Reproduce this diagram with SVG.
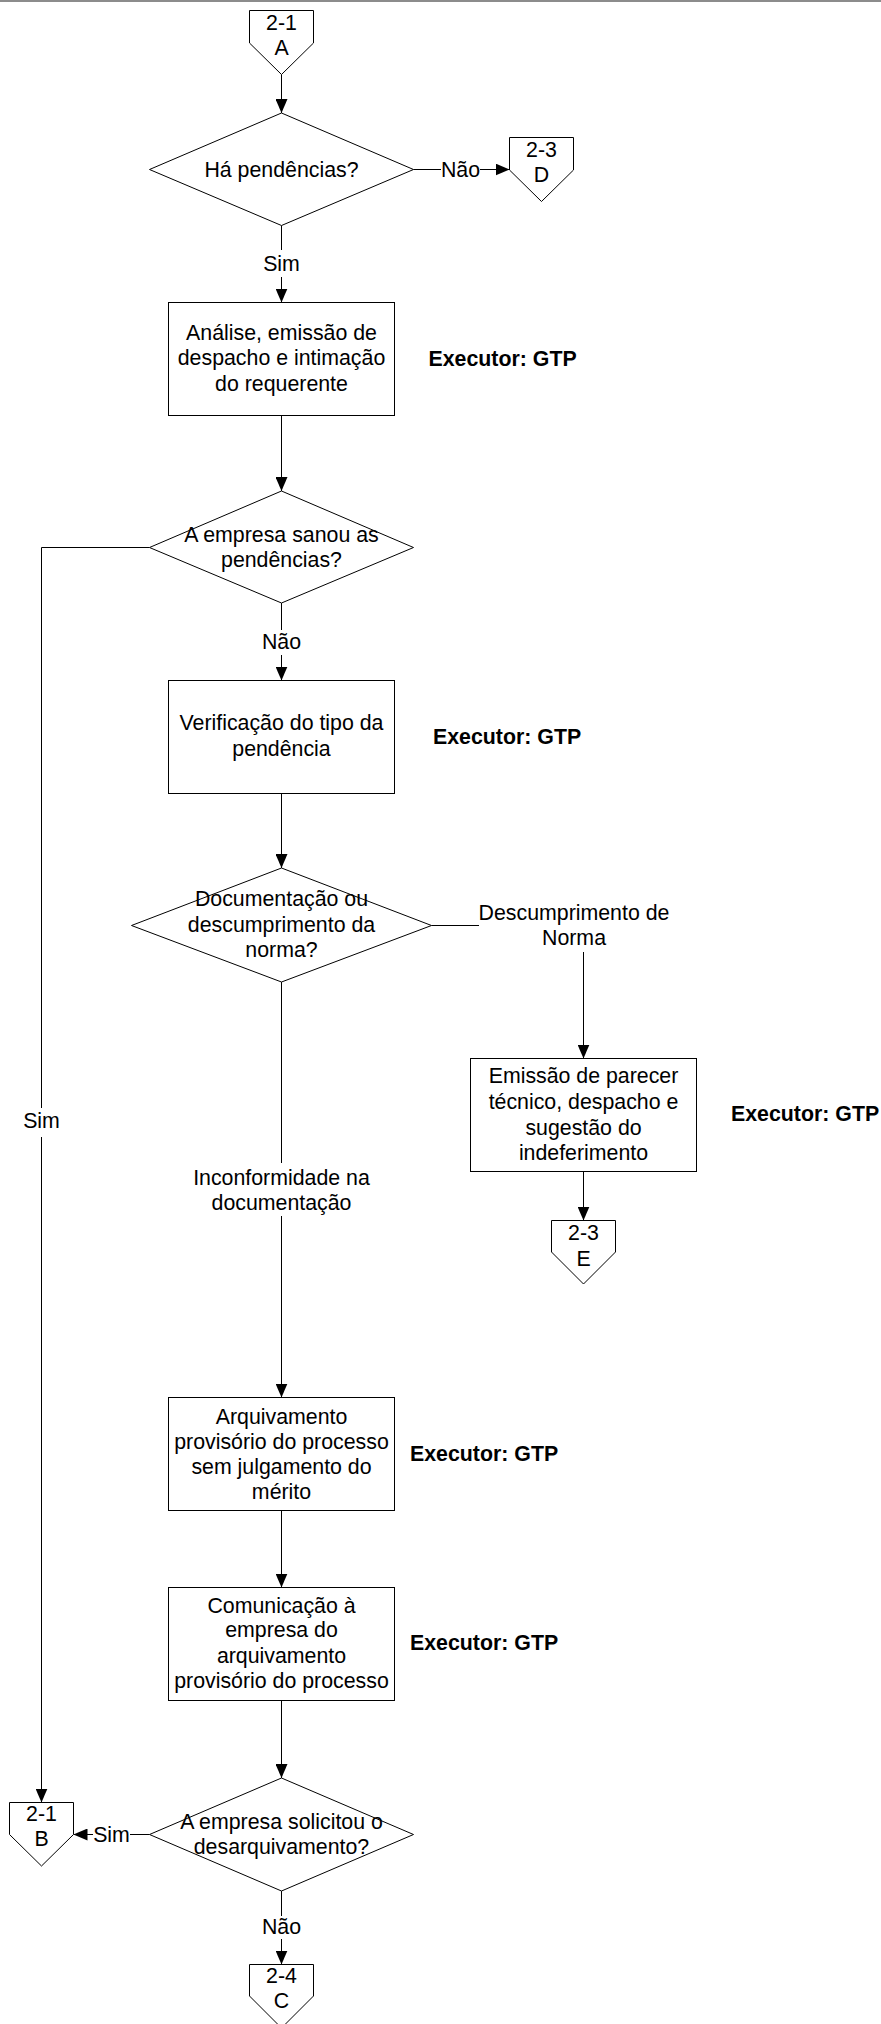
<svg xmlns="http://www.w3.org/2000/svg" width="881" height="2024" viewBox="0 0 881 2024">
<style>
.s{fill:#fff;stroke:#000;stroke-width:1}
.c{fill:none;stroke:#000;stroke-width:1}
text{font-family:"Liberation Sans",Arial,sans-serif;font-size:21.33px;fill:#000}
.m{text-anchor:middle}
.b{font-weight:bold}
</style>
<defs>
<marker id="ah" markerUnits="userSpaceOnUse" markerWidth="14" markerHeight="12" refX="14" refY="6" orient="auto">
<path d="M0,0 L14,6 L0,12 Z" fill="#000"/>
</marker>
</defs>
<rect x="0" y="0" width="881" height="2" fill="#8c8c8c"/>

<g id="connectors">
<path class="c" d="M281.5,74.5 V113" marker-end="url(#ah)"/>
<path class="c" d="M413.5,169.5 H441"/>
<path class="c" d="M480,169.5 H509.5" marker-end="url(#ah)"/>
<path class="c" d="M281.5,225.5 V250"/>
<path class="c" d="M281.5,277 V302.5" marker-end="url(#ah)"/>
<path class="c" d="M281.5,415.5 V491" marker-end="url(#ah)"/>
<path class="c" d="M281.5,603 V630"/>
<path class="c" d="M281.5,655 V680.5" marker-end="url(#ah)"/>
<path class="c" d="M149.5,547.5 H41.5 V1108"/>
<path class="c" d="M41.5,1137 V1802.5" marker-end="url(#ah)"/>
<path class="c" d="M281.5,793.5 V868" marker-end="url(#ah)"/>
<path class="c" d="M431.5,925.5 H479"/>
<path class="c" d="M583.5,952 V1058.5" marker-end="url(#ah)"/>
<path class="c" d="M583.5,1171.5 V1220.5" marker-end="url(#ah)"/>
<path class="c" d="M281.5,982 V1163"/>
<path class="c" d="M281.5,1216 V1397.5" marker-end="url(#ah)"/>
<path class="c" d="M281.5,1510.5 V1587.5" marker-end="url(#ah)"/>
<path class="c" d="M281.5,1700.5 V1778" marker-end="url(#ah)"/>
<path class="c" d="M149.5,1834.5 H130"/>
<path class="c" d="M93,1834.5 H73.5" marker-end="url(#ah)"/>
<path class="c" d="M281.5,1891 V1916"/>
<path class="c" d="M281.5,1939 V1964.5" marker-end="url(#ah)"/>
<text class="m" x="460.5" y="176.5">Não</text>
<text class="m" x="281.5" y="271">Sim</text>
<text class="m" x="281.5" y="648.5">Não</text>
<text class="m" x="41.5" y="1127.5">Sim</text>
<text class="m" x="574" y="919.5">Descumprimento de</text>
<text class="m" x="574" y="945">Norma</text>
<text class="m" x="281.5" y="1184.5">Inconformidade na</text>
<text class="m" x="281.5" y="1209.5">documentação</text>
<text class="m" x="111.5" y="1842">Sim</text>
<text class="m" x="281.5" y="1934">Não</text>
</g>

<g id="conA">
<polygon class="s" points="249.5,10.5 313.5,10.5 313.5,43 281.5,74.5 249.5,43"/>
<text class="m" x="281.5" y="30">2-1</text>
<text class="m" x="281.5" y="55">A</text>
</g>
<g id="conD">
<polygon class="s" points="509.5,137.5 573.5,137.5 573.5,170 541.5,201.5 509.5,170"/>
<text class="m" x="541.5" y="156.5">2-3</text>
<text class="m" x="541.5" y="182">D</text>
</g>
<g id="dec1">
<polygon class="s" points="149.5,169.5 281.5,113 413.5,169.5 281.5,225.5"/>
<text class="m" x="281.5" y="176.5">Há pendências?</text>
</g>
<g id="proc1">
<rect class="s" x="168.5" y="302.5" width="226" height="113"/>
<text class="m" x="281.5" y="339.5">Análise, emissão de</text>
<text class="m" x="281.5" y="365">despacho e intimação</text>
<text class="m" x="281.5" y="391">do requerente</text>
</g>
<text id="exec1" class="b" x="428.5" y="366">Executor: GTP</text>
<g id="dec2">
<polygon class="s" points="149.5,547.5 281.5,491 413.5,547.5 281.5,603"/>
<text class="m" x="281.5" y="541.5">A empresa sanou as</text>
<text class="m" x="281.5" y="567">pendências?</text>
</g>
<g id="proc2">
<rect class="s" x="168.5" y="680.5" width="226" height="113"/>
<text class="m" x="281.5" y="730">Verificação do tipo da</text>
<text class="m" x="281.5" y="755.5">pendência</text>
</g>
<text id="exec2" class="b" x="433" y="743.5">Executor: GTP</text>
<g id="dec3">
<polygon class="s" points="131.5,925.5 281.5,868 431.5,925.5 281.5,982"/>
<text class="m" x="281.5" y="906">Documentação ou</text>
<text class="m" x="281.5" y="932">descumprimento da</text>
<text class="m" x="281.5" y="957">norma?</text>
</g>
<g id="proc3">
<rect class="s" x="470.5" y="1058.5" width="226" height="113"/>
<text class="m" x="583.5" y="1082.5">Emissão de parecer</text>
<text class="m" x="583.5" y="1108.5">técnico, despacho e</text>
<text class="m" x="583.5" y="1134.5">sugestão do</text>
<text class="m" x="583.5" y="1159.5">indeferimento</text>
</g>
<text id="exec3" class="b" x="731" y="1121">Executor: GTP</text>
<g id="conE">
<polygon class="s" points="551.5,1220.5 615.5,1220.5 615.5,1252 583.5,1284 551.5,1252"/>
<text class="m" x="583.5" y="1239.5">2-3</text>
<text class="m" x="583.5" y="1265.5">E</text>
</g>
<g id="proc4">
<rect class="s" x="168.5" y="1397.5" width="226" height="113"/>
<text class="m" x="281.5" y="1423.5">Arquivamento</text>
<text class="m" x="281.5" y="1448.5">provisório do processo</text>
<text class="m" x="281.5" y="1474">sem julgamento do</text>
<text class="m" x="281.5" y="1498.5">mérito</text>
</g>
<text id="exec4" class="b" x="410" y="1461">Executor: GTP</text>
<g id="proc5">
<rect class="s" x="168.5" y="1587.5" width="226" height="113"/>
<text class="m" x="281.5" y="1612.5">Comunicação à</text>
<text class="m" x="281.5" y="1637">empresa do</text>
<text class="m" x="281.5" y="1662.5">arquivamento</text>
<text class="m" x="281.5" y="1687.5">provisório do processo</text>
</g>
<text id="exec5" class="b" x="410" y="1650">Executor: GTP</text>
<g id="dec4">
<polygon class="s" points="149.5,1834.5 281.5,1778 413.5,1834.5 281.5,1891"/>
<text class="m" x="281.5" y="1828.5">A empresa solicitou o</text>
<text class="m" x="281.5" y="1854">desarquivamento?</text>
</g>
<g id="conB">
<polygon class="s" points="9.5,1802.5 73.5,1802.5 73.5,1834.5 41.5,1866 9.5,1834.5"/>
<text class="m" x="41.5" y="1821">2-1</text>
<text class="m" x="41.5" y="1846">B</text>
</g>
<g id="conC">
<polygon class="s" points="249.5,1964.5 313.5,1964.5 313.5,1996 281.5,2028 249.5,1996"/>
<text class="m" x="281.5" y="1983">2-4</text>
<text class="m" x="281.5" y="2007.5">C</text>
</g>
</svg>
